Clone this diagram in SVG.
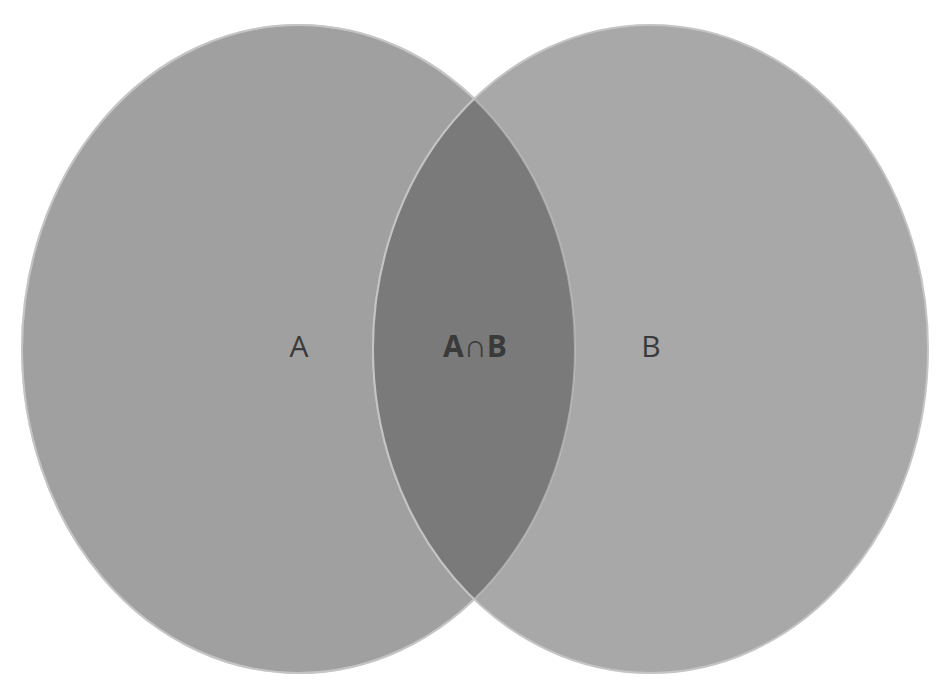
<svg xmlns="http://www.w3.org/2000/svg" width="951" height="700" viewBox="0 0 951 700">
<style>
.set{stroke:#c4c4c4;stroke-width:2}
.lbl{font-family:"Open Sans","Liberation Sans",sans-serif;font-size:30px;fill:#3a3a3a;text-anchor:middle}
</style>
<defs>
<clipPath id="clipA"><ellipse cx="298.5" cy="349" rx="276.5" ry="324"/></clipPath>
</defs>
<rect width="951" height="700" fill="#ffffff"/>
<g id="setA"><ellipse class="set" cx="298.5" cy="349" rx="276.5" ry="324" fill="#a0a0a0"/><text class="lbl" x="299" y="357">A</text></g>
<g id="setB"><ellipse class="set" cx="650.5" cy="349" rx="277.5" ry="324" fill="#a8a8a8"/><text class="lbl" x="651" y="357">B</text></g>
<g id="intersection"><ellipse clip-path="url(#clipA)" class="set" cx="650.5" cy="349" rx="277.5" ry="324" fill="#7a7a7a"/>
<ellipse cx="298.5" cy="349" rx="276.5" ry="324" fill="none" class="set" stroke-opacity="0.6"/>
<text class="lbl" x="475" y="357" font-weight="bold"><tspan>A</tspan><tspan font-weight="normal" font-size="32">∩</tspan><tspan>B</tspan></text></g>
<g id="connectors"/>
</svg>
